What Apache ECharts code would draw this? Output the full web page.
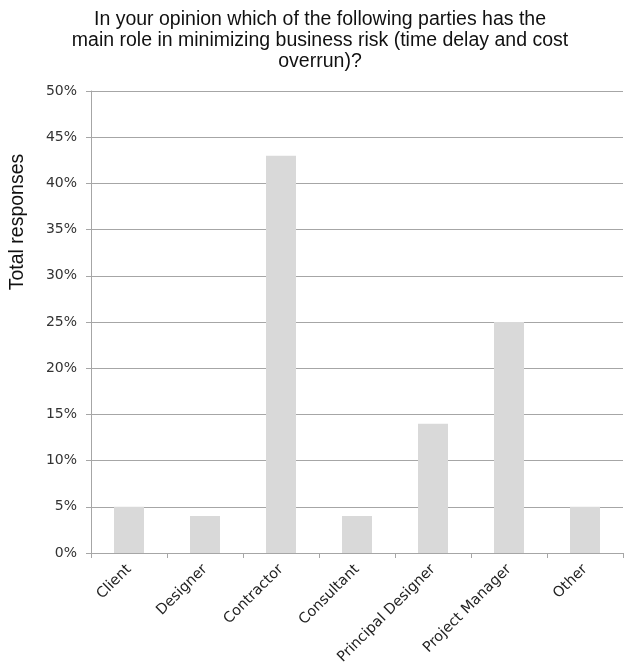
<!DOCTYPE html>
<html>
<head>
<meta charset="utf-8">
<script src="https://cdn.jsdelivr.net/npm/echarts@6/dist/echarts.min.js"></script>
<style>html,body{margin:0;padding:0;background:#fff}#c{width:624px;height:669px}</style>
</head>
<body>
<div id="c"></div>
<script>
const categories = ["Client", "Designer", "Contractor", "Consultant", "Principal Designer", "Project Manager", "Other"];
const values = [5, 4, 43, 4, 14, 25, 5];
const yTicks = { min: 0, max: 50, interval: 5 };
const titleText = "In your opinion which of the following parties has the\nmain role in minimizing business risk (time delay and cost\noverrun)?";
const yName = "Total responses";

const chart = echarts.init(document.getElementById('c'), null, { renderer: 'canvas' });
chart.setOption({
  animation: false,
  backgroundColor: '#fff',
  title: {
    text: titleText,
    left: 315,
    top: 4,
    textAlign: 'center',
    textStyle: { fontFamily: 'Liberation Sans', fontSize: 19.5, fontWeight: 'normal', color: '#111', lineHeight: 21 }
  },
  graphic: [{
    type: 'text',
    x: 18,
    y: 222,
    rotation: Math.PI / 2,
    style: { text: yName, font: '19.5px "Liberation Sans"', fill: '#111', textAlign: 'center', textVerticalAlign: 'middle' }
  }],
  grid: { left: 91, right: 1, top: 91, bottom: 116, containLabel: false },
  xAxis: {
    type: 'category',
    data: categories,
    axisLine: { lineStyle: { color: '#a6a6a6', width: 1 } },
    axisTick: { show: true, alignWithLabel: false, length: 5, lineStyle: { color: '#a6a6a6' } },
    axisLabel: { rotate: 45, interval: 0, margin: 14, fontFamily: 'DejaVu Sans', fontSize: 14.5, color: '#222' }
  },
  yAxis: {
    type: 'value',
    min: yTicks.min, max: yTicks.max, interval: yTicks.interval,
    axisLine: { show: true, lineStyle: { color: '#a6a6a6', width: 1 } },
    axisTick: { show: true, length: 5, lineStyle: { color: '#a6a6a6' } },
    splitLine: { show: true, lineStyle: { color: '#a6a6a6', width: 1 } },
    axisLabel: { formatter: '{value}%', margin: 14, fontFamily: 'DejaVu Sans', fontSize: 14, color: '#333' }
  },
  series: [{
    type: 'bar',
    data: values,
    barWidth: 30,
    itemStyle: { color: '#d9d9d9' }
  }]
});
</script>
</body>
</html>
